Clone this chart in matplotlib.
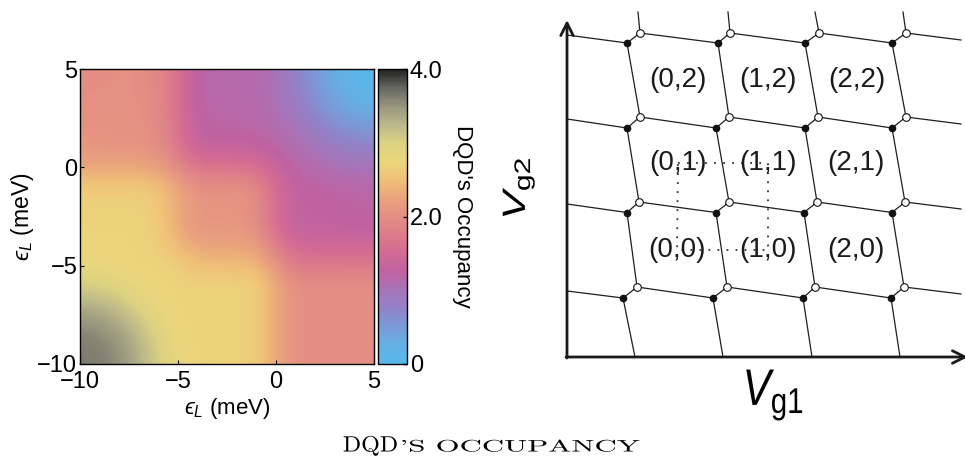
import matplotlib
matplotlib.use('Agg')
import matplotlib.pyplot as plt
from matplotlib.colors import LinearSegmentedColormap
from matplotlib.patheffects import AbstractPathEffect
from matplotlib.transforms import Affine2D

plt.rcParams['font.family'] = ['Liberation Sans', 'DejaVu Sans']
plt.rcParams['mathtext.fontset'] = 'custom'
plt.rcParams['mathtext.rm'] = 'Liberation Sans'
plt.rcParams['mathtext.it'] = 'Liberation Sans:italic'
plt.rcParams['mathtext.fallback'] = 'stixsans'

# ---- left panel: occupancy map (1 meV grid) ----
eps_x = [-10, -9, -8, -7, -6, -5, -4, -3, -2, -1, 0, 1, 2, 3, 4, 5]
eps_y = [5, 4, 3, 2, 1, 0, -1, -2, -3, -4, -5, -6, -7, -8, -9, -10]
occupancy = [
    [1.98, 2.00, 2.02, 2.02, 1.92, 1.62, 1.20, 1.15, 1.14, 1.13, 1.00, 0.76, 0.50, 0.28, 0.12, 0.05],
    [2.00, 2.02, 2.02, 2.02, 1.93, 1.62, 1.20, 1.16, 1.15, 1.14, 1.01, 0.79, 0.54, 0.33, 0.18, 0.12],
    [2.03, 2.03, 2.03, 2.03, 1.94, 1.63, 1.22, 1.18, 1.17, 1.15, 1.06, 0.87, 0.65, 0.46, 0.33, 0.28],
    [2.06, 2.05, 2.05, 2.05, 1.96, 1.64, 1.25, 1.21, 1.20, 1.18, 1.11, 1.00, 0.82, 0.65, 0.54, 0.50],
    [2.10, 2.09, 2.08, 2.08, 2.00, 1.70, 1.35, 1.33, 1.32, 1.30, 1.20, 1.09, 1.00, 0.87, 0.79, 0.76],
    [2.28, 2.28, 2.28, 2.28, 2.22, 1.95, 1.68, 1.67, 1.67, 1.60, 1.38, 1.20, 1.13, 1.06, 1.01, 1.02],
    [2.60, 2.60, 2.60, 2.60, 2.52, 2.28, 2.02, 2.02, 2.02, 1.95, 1.55, 1.27, 1.25, 1.21, 1.18, 1.15],
    [2.70, 2.70, 2.70, 2.70, 2.60, 2.30, 2.10, 2.10, 2.10, 2.00, 1.56, 1.28, 1.27, 1.25, 1.23, 1.21],
    [2.72, 2.72, 2.72, 2.72, 2.62, 2.32, 2.10, 2.10, 2.10, 2.00, 1.57, 1.29, 1.28, 1.27, 1.26, 1.25],
    [2.72, 2.72, 2.72, 2.72, 2.66, 2.45, 2.26, 2.24, 2.24, 2.20, 1.80, 1.46, 1.45, 1.45, 1.44, 1.44],
    [2.80, 2.78, 2.74, 2.71, 2.70, 2.68, 2.50, 2.48, 2.48, 2.45, 2.10, 1.76, 1.74, 1.74, 1.74, 1.74],
    [3.05, 3.02, 2.90, 2.80, 2.72, 2.70, 2.70, 2.70, 2.70, 2.66, 2.30, 2.02, 2.00, 2.00, 2.00, 2.00],
    [3.32, 3.28, 3.16, 2.96, 2.80, 2.71, 2.70, 2.70, 2.70, 2.64, 2.30, 2.02, 2.00, 2.00, 2.00, 2.00],
    [3.54, 3.50, 3.36, 3.16, 2.90, 2.74, 2.70, 2.70, 2.70, 2.64, 2.30, 2.02, 2.00, 2.00, 2.00, 2.00],
    [3.62, 3.60, 3.50, 3.28, 3.02, 2.78, 2.70, 2.70, 2.70, 2.64, 2.30, 2.02, 2.00, 2.00, 2.00, 2.00],
    [3.64, 3.62, 3.54, 3.32, 3.05, 2.80, 2.71, 2.70, 2.70, 2.64, 2.30, 2.02, 2.00, 2.00, 2.00, 2.00],
]
eps_ticks = [-10, -5, 0, 5]
cbar_ticks = [0, 2, 4]
cbar_ticklabels = ['0', '2.0', '4.0']

# colour stops picked from the colour bar (value / 4 -> colour)
cmap_stops = [
    (0.0, '#55b9ec'), (0.0625, '#64b0e4'), (0.125, '#7b9ad8'), (0.1875, '#9282c8'),
    (0.25, '#a874b8'), (0.3125, '#c062a2'), (0.375, '#d26a94'), (0.4375, '#dc7c8a'),
    (0.5, '#e48e84'), (0.5625, '#eaa47c'), (0.625, '#f0c078'), (0.6875, '#ecd67c'),
    (0.75, '#dcd282'), (0.8125, '#bcb88a'), (0.875, '#98967e'), (0.9375, '#666662'),
    (1.0, '#222222'),
]

# ---- right panel: charge stability diagram (pixel-like units) ----
open_v = [324, 240, 155, 70]
open_u = [[73, 163, 252, 339], [73, 162, 251, 339], [72, 162, 250, 338], [70, 160, 248, 337]]
filled_v = [314, 229, 144.5, 59]
filled_u = [[60, 151, 238, 325], [60, 149, 238, 325], [60, 149, 237, 325], [56, 146, 236, 324]]
left_end_v = [322, 238, 153, 66]
right_end_v = [317, 233, 148, 63]
right_end_u = 394
top_end_u = [71, 161, 248, 336]
top_end_v = 345
bottom_end_u = [68, 156, 245, 333]
cell_labels = ['(0,2)', '(1,2)', '(2,2)', '(0,1)', '(1,1)', '(2,1)', '(0,0)', '(1,0)', '(2,0)']
cell_u = [111, 201, 290, 111, 201, 289, 110, 201, 289]
cell_v = [277, 277, 277, 194, 194, 194, 107, 107, 107]
dotted_loop = ['(0,1)', '(1,1)', '(1,0)', '(0,0)', '(0,1)']


class Stretch(AbstractPathEffect):
    # squeeze / stretch glyphs in the text's own frame (original art is not 1:1)
    def __init__(self, sx=1.0, sy=1.0):
        super().__init__()
        self.sx = sx
        self.sy = sy

    def draw_path(self, renderer, gc, tpath, affine, rgbFace=None):
        ext = tpath.get_extents()
        cx = (ext.x0 + ext.x1) / 2
        tr = Affine2D().translate(-cx, 0).scale(self.sx, self.sy).translate(cx, 0)
        renderer.draw_path(gc, tpath, tr + affine, rgbFace)


W, H = 965, 463
fig = plt.figure(figsize=(9.65, 4.63), dpi=100)

cmap = LinearSegmentedColormap.from_list('dqd', cmap_stops)
ax1 = fig.add_axes([80 / W, 1 - 364 / H, 294 / W, 295 / H])
extent = [eps_x[0] - 0.5, eps_x[-1] + 0.5, eps_y[-1] - 0.5, eps_y[0] + 0.5]
im = ax1.imshow(occupancy, cmap=cmap, vmin=0, vmax=4, extent=extent, origin='upper',
                interpolation='bicubic', aspect='auto')
ax1.set_xlim(-10, 5)
ax1.set_ylim(-10, 5)
ax1.set_xticks(eps_ticks)
ax1.set_yticks(eps_ticks)
ax1.tick_params(direction='in', length=3, width=0.8, labelsize=17)
ax1.tick_params(axis='x', pad=5)
ax1.tick_params(axis='y', pad=2)
eps_label = '$\u03f5_L$ (meV)'
ax1.set_xlabel(eps_label, fontsize=16, labelpad=2)
ax1.set_ylabel(eps_label, fontsize=16.5, labelpad=1)
for s in ax1.spines.values():
    s.set_linewidth(1.0)

cax = fig.add_axes([378 / W, 1 - 364 / H, 29 / W, 295 / H])
cb = fig.colorbar(im, cax=cax, ticks=cbar_ticks)
cb.set_ticklabels(cbar_ticklabels)
cax.tick_params(direction='in', length=3, width=1.0, labelsize=17, pad=2)
cb.outline.set_linewidth(1.0)
cax.set_ylabel("DQD's Occupancy", rotation=270, fontsize=16, labelpad=22)

# right panel
ax2 = fig.add_axes([567 / W, 106 / H, 398 / W, 357 / H])
ax2.set_xlim(0, 398)
ax2.set_ylim(0, 357)
ax2.axis('off')
lc = '#1e1e1e'
lw = 0.9
for r in range(4):
    # near-horizontal lines
    ax2.plot([0, filled_u[r][0]], [left_end_v[r], filled_v[r]], color=lc, lw=lw)
    for j in range(3):
        ax2.plot([open_u[r][j], filled_u[r][j + 1]], [open_v[r], filled_v[r]], color=lc, lw=lw)
    ax2.plot([open_u[r][3], right_end_u], [open_v[r], right_end_v[r]], color=lc, lw=lw)
    # short links between triple points
    for j in range(4):
        ax2.plot([filled_u[r][j], open_u[r][j]], [filled_v[r], open_v[r]], color=lc, lw=lw)
# near-vertical lines
for j in range(4):
    ax2.plot([top_end_u[j], open_u[0][j]], [top_end_v, open_v[0]], color=lc, lw=lw)
    for r in range(3):
        ax2.plot([filled_u[r][j], open_u[r + 1][j]], [filled_v[r], open_v[r + 1]], color=lc, lw=lw)
    ax2.plot([filled_u[3][j], bottom_end_u[j]], [filled_v[3], 0], color=lc, lw=lw)

for r in range(4):
    ax2.plot(filled_u[r], [filled_v[r]] * 4, 'o', ms=4.5, color='#111111', zorder=3)
    ax2.plot(open_u[r], [open_v[r]] * 4, 'o', ms=5.5, mfc='white', mec='#111111', mew=0.8, zorder=3)

for lab, u, v in zip(cell_labels, cell_u, cell_v):
    ax2.text(u, v, lab, fontsize=20, ha='center', va='center', color='#1a1a1a')

loop_u = [cell_u[cell_labels.index(l)] for l in dotted_loop]
loop_v = [cell_v[cell_labels.index(l)] for l in dotted_loop]
ax2.plot(loop_u, loop_v, ls=(0, (1, 4)), lw=1.3, color='#333333')

arrow = dict(arrowstyle='->, head_length=0.9, head_width=0.45', lw=2.0, color='#1a1a1a',
             shrinkA=0, shrinkB=0)
ax2.annotate('', xy=(0, 337), xytext=(0, -1), arrowprops=arrow, annotation_clip=False)
ax2.annotate('', xy=(401, 0), xytext=(-1, 0), arrowprops=arrow, annotation_clip=False)

fig.text(773 / W, 1 - 405 / H, r'$V_{\rm g1}$', fontsize=37, ha='center', va='baseline',
         path_effects=[Stretch(sx=0.82)])
fig.text(525 / W, 1 - 188.5 / H, r'$V_{\rm g2}$', fontsize=31, rotation=90, rotation_mode='anchor',
         ha='center', va='baseline', path_effects=[Stretch(sy=0.75)])

# small-caps title
fig.text(370.5 / W, 1 - 451.5 / H, 'DQD', family='cmr10', fontsize=16, ha='center',
         va='baseline', path_effects=[Stretch(sx=1.08)])
fig.text(520 / W, 1 - 451.5 / H, "'S OCCUPANCY", family='cmr10', fontsize=12, ha='center',
         va='baseline', path_effects=[Stretch(sx=1.85)])

fig.savefig('out.png', dpi=100)
